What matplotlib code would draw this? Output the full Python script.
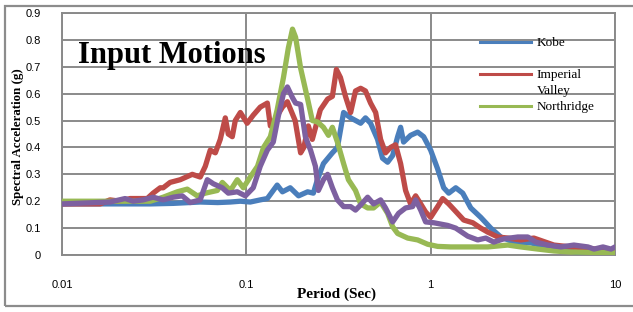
import numpy as np
import matplotlib
matplotlib.use("Agg")
import matplotlib.pyplot as plt
from matplotlib.lines import Line2D
from matplotlib.patches import Rectangle
from matplotlib.text import Annotation

# spectral acceleration (g) vs period (sec)
kobe_t = [0.01, 0.0201, 0.0301, 0.0401, 0.0562, 0.0699, 0.0818, 0.0928, 0.105, 0.119,
          0.130, 0.147, 0.157, 0.173, 0.192, 0.215, 0.231, 0.243, 0.262, 0.293,
          0.312, 0.337, 0.368, 0.417, 0.443, 0.472, 0.515, 0.548, 0.584, 0.622,
          0.662, 0.687, 0.713, 0.778, 0.850, 0.916, 1.0, 1.091, 1.177, 1.253,
          1.368, 1.493, 1.65, 1.87, 2.119, 2.402, 2.825, 3.496, 4.324, 5.282,
          6.535, 8.085, 10.0]
kobe_sa = [0.19, 0.19, 0.19, 0.192, 0.197, 0.195, 0.197, 0.20, 0.197, 0.205,
           0.21, 0.26, 0.235, 0.25, 0.22, 0.235, 0.23, 0.28, 0.34, 0.38,
           0.40, 0.53, 0.51, 0.49, 0.51, 0.49, 0.43, 0.36, 0.345, 0.37,
           0.44, 0.475, 0.42, 0.445, 0.457, 0.44, 0.39, 0.32, 0.25, 0.23,
           0.25, 0.23, 0.175, 0.14, 0.10, 0.067, 0.048, 0.045, 0.03, 0.019,
           0.007, 0.005, 0.005]

imp_t = [0.01, 0.0161, 0.0182, 0.0207, 0.0234, 0.0265, 0.029, 0.0312, 0.0341, 0.0354,
         0.0386, 0.0438, 0.0509, 0.0562, 0.0599, 0.0637, 0.0679, 0.0722, 0.0769, 0.0798,
         0.0839, 0.0871, 0.0928, 0.101, 0.109, 0.119, 0.130, 0.135, 0.139, 0.157,
         0.167, 0.184, 0.197, 0.205, 0.217, 0.228, 0.252, 0.276, 0.293, 0.308,
         0.324, 0.345, 0.368, 0.391, 0.417, 0.443, 0.472, 0.503, 0.535, 0.569,
         0.606, 0.645, 0.687, 0.731, 0.778, 0.829, 0.883, 0.939, 1.0, 1.091,
         1.162, 1.253, 1.334, 1.511, 1.692, 1.87, 2.041, 2.312, 2.621, 3.084,
         3.629, 4.113, 4.662, 5.767, 7.133, 8.393, 10.0]
imp_sa = [0.19, 0.19, 0.205, 0.20, 0.21, 0.21, 0.21, 0.23, 0.25, 0.25,
          0.27, 0.28, 0.30, 0.29, 0.33, 0.39, 0.38, 0.43, 0.51, 0.45,
          0.44, 0.50, 0.53, 0.49, 0.52, 0.55, 0.565, 0.48, 0.49, 0.55,
          0.57, 0.50, 0.38, 0.40, 0.48, 0.43, 0.54, 0.58, 0.59, 0.69,
          0.66, 0.59, 0.53, 0.61, 0.62, 0.61, 0.565, 0.53, 0.43, 0.38,
          0.40, 0.41, 0.34, 0.24, 0.19, 0.22, 0.19, 0.16, 0.14, 0.18,
          0.21, 0.19, 0.17, 0.13, 0.12, 0.10, 0.085, 0.067, 0.063, 0.056,
          0.063, 0.05, 0.037, 0.03, 0.026, 0.019, 0.02]

north_t = [0.01, 0.0201, 0.0301, 0.0354, 0.0422, 0.0478, 0.0542, 0.0599, 0.0696, 0.0741,
           0.0819, 0.0893, 0.0963, 0.105, 0.115, 0.124, 0.135, 0.147, 0.159, 0.169,
           0.178, 0.185, 0.197, 0.215, 0.228, 0.243, 0.262, 0.279, 0.293, 0.312,
           0.337, 0.358, 0.391, 0.417, 0.455, 0.490, 0.535, 0.584, 0.622, 0.662,
           0.750, 0.850, 0.963, 1.091, 1.284, 1.456, 2.041, 2.621, 3.084, 3.815,
           4.662, 5.767, 7.133, 10.0]
north_sa = [0.20, 0.20, 0.20, 0.215, 0.235, 0.245, 0.22, 0.23, 0.24, 0.27,
            0.24, 0.28, 0.25, 0.29, 0.33, 0.40, 0.44, 0.54, 0.66, 0.77,
            0.84, 0.81, 0.695, 0.58, 0.50, 0.495, 0.475, 0.445, 0.475, 0.42,
            0.34, 0.28, 0.24, 0.19, 0.175, 0.175, 0.197, 0.155, 0.105, 0.08,
            0.063, 0.056, 0.04, 0.032, 0.03, 0.03, 0.03, 0.037, 0.03, 0.022,
            0.015, 0.011, 0.01, 0.008]

# fourth record, not listed in the legend
other_t = [0.01, 0.0182, 0.022, 0.0243, 0.0276, 0.0312, 0.0354, 0.0401, 0.0449, 0.0496,
           0.0562, 0.0614, 0.0662, 0.074, 0.0798, 0.0893, 0.0988, 0.109, 0.119, 0.130,
           0.140, 0.149, 0.159, 0.167, 0.178, 0.185, 0.197, 0.209, 0.223, 0.237,
           0.246, 0.262, 0.276, 0.293, 0.312, 0.337, 0.368, 0.391, 0.417, 0.455,
           0.49, 0.535, 0.569, 0.622, 0.670, 0.731, 0.798, 0.829, 0.883, 0.939,
           1.038, 1.237, 1.368, 1.589, 1.80, 1.991, 2.20, 2.493, 2.971, 3.367,
           3.721, 4.324, 5.088, 5.988, 7.133, 7.69, 8.606, 9.512, 10.0]
other_sa = [0.19, 0.197, 0.21, 0.20, 0.205, 0.215, 0.205, 0.215, 0.22, 0.195,
            0.205, 0.28, 0.265, 0.25, 0.23, 0.235, 0.22, 0.25, 0.33, 0.39,
            0.42, 0.515, 0.60, 0.625, 0.585, 0.565, 0.56, 0.44, 0.39, 0.33,
            0.24, 0.28, 0.30, 0.25, 0.205, 0.18, 0.18, 0.167, 0.186, 0.215,
            0.19, 0.205, 0.175, 0.123, 0.155, 0.175, 0.18, 0.205, 0.167, 0.123,
            0.12, 0.11, 0.10, 0.07, 0.056, 0.063, 0.048, 0.06, 0.067, 0.067,
            0.048, 0.037, 0.03, 0.037, 0.03, 0.022, 0.03, 0.022, 0.03]

labels = ["Kobe", "Imperial", "Northridge"]
colors = ["#4A7EBB", "#BE4B48", "#98B954", "#7D60A0"]

serif = "Liberation Serif"
sans = "Liberation Sans"
grid_c = "#8a8a8a"

fig = plt.figure(figsize=(6.33, 3.12), dpi=100)
ax = fig.add_axes([62 / 633, 1 - 255 / 312, 553 / 633, 242 / 312])

# outer chart frame
fig.patches.append(Rectangle((5 / 633, 1 - 306 / 312), 1.0, 300 / 312,
                             transform=fig.transFigure, fill=False,
                             edgecolor="#8c8c8c", linewidth=1.6, zorder=0))

series = [(kobe_t, kobe_sa), (imp_t, imp_sa), (north_t, north_sa), (other_t, other_sa)]
for (t, sa), c in zip(series, colors):
    ax.plot(t, sa, color=c, linewidth=3.8, solid_joinstyle="round",
            solid_capstyle="round", zorder=3)

ax.set_xscale("log")
ax.set_xlim(0.01, 10)
ax.set_ylim(0, 0.9)
ax.set_yticks(np.arange(0, 0.91, 0.1))
ax.set_yticklabels(["0", "0.1", "0.2", "0.3", "0.4", "0.5", "0.6", "0.7", "0.8", "0.9"])
ax.set_xticks([0.01, 0.1, 1, 10])
ax.set_xticklabels(["0.01", "0.1", "1", "10"])
ax.minorticks_off()
ax.grid(True, color=grid_c, linewidth=1.4, zorder=1)
for s in ax.spines.values():
    s.set_color(grid_c)
    s.set_linewidth(1.4)
ax.tick_params(length=0, labelsize=8, colors="black")
ax.tick_params(axis="y", pad=15)
ax.tick_params(axis="x", pad=18)
for lab in ax.get_xticklabels() + ax.get_yticklabels():
    lab.set_fontfamily(sans)

ax.set_xlabel("Period (Sec)", fontfamily=serif, fontweight="bold", fontsize=11)
ax.xaxis.set_label_coords(0.497, -0.135)
ax.set_ylabel("Spectral Acceleration (g)", fontfamily=serif, fontweight="bold", fontsize=9.3)
ax.yaxis.set_label_coords(-0.068, 0.49)

ax.text(0.029, 0.793, "Input Motions", transform=ax.transAxes, fontfamily=serif,
        fontweight="bold", fontsize=22, va="baseline", ha="left", zorder=4)

handles = [Line2D([], [], color=c, linewidth=2.2) for c in colors[:3]]
leg = fig.legend(handles, labels, loc="upper left", bbox_to_anchor=(480 / 633, 1 - 37 / 312),
                 frameon=False, borderpad=0, borderaxespad=0, handlelength=3.9,
                 handletextpad=0.4, labelspacing=1.5,
                 prop={"family": serif, "size": 9.5})

# second line of the Imperial Valley label, hung under "Imperial"
imp_txt = leg.get_texts()[1]
valley = Annotation("Valley", xy=(0, 0), xycoords=imp_txt, xytext=(0, -3),
                    textcoords="offset points", va="top", ha="left",
                    fontfamily=serif, fontsize=9.5, annotation_clip=False)
valley.set_zorder(6)
fig.add_artist(valley)

fig.savefig("out.png", dpi=100)
